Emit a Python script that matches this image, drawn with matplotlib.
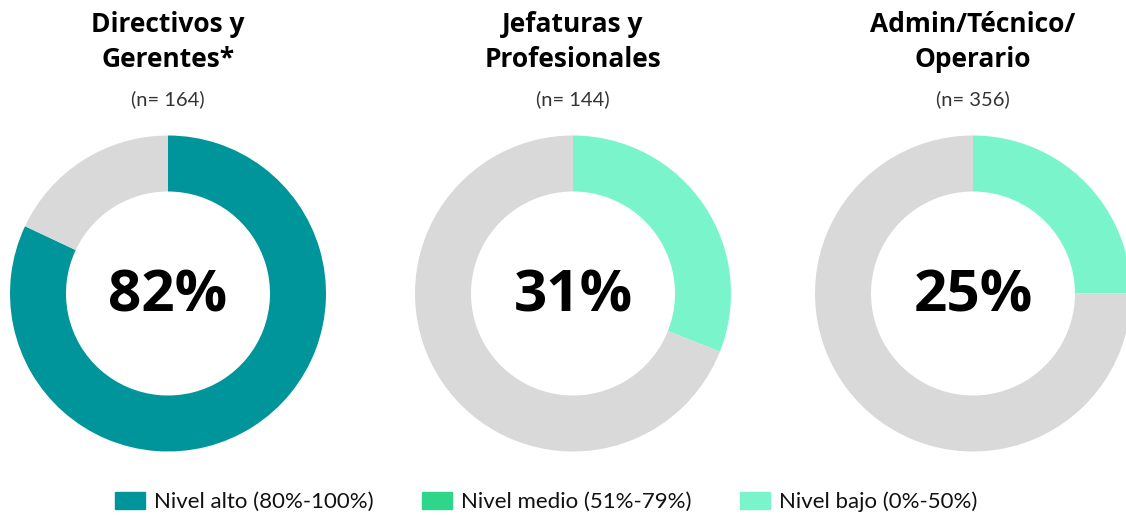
import matplotlib
matplotlib.use("Agg")
import matplotlib.pyplot as plt
import matplotlib.patches as mpatches

# ---------------------------------------------------------------------------
# DATA
# ---------------------------------------------------------------------------
groups = ["Directivos y\nGerentes*", "Jefaturas y\nProfesionales", "Admin/Técnico/\nOperario"]
sample_sizes = [164, 144, 356]
percentages = [82, 31, 25]
levels = ["alto", "bajo", "bajo"]

legend_labels = ["Nivel alto (80%-100%)", "Nivel medio (51%-79%)", "Nivel bajo (0%-50%)"]
LEVEL_COLORS = {"alto": "#00959A", "medio": "#2ED68A", "bajo": "#7AF5CB"}
GRAY = "#D9D9D9"

TITLE_FONT = ["Open Sans", "DejaVu Sans"]
BODY_FONT = ["Lato", "DejaVu Sans"]

W, H = 1126, 515
fig = plt.figure(figsize=(W / 100, H / 100), dpi=100)

centers_x = [168, 573, 973]
center_y = 293.5
radius = 158
ring = 56

for i, (name, n, pct, lvl) in enumerate(zip(groups, sample_sizes, percentages, levels)):
    cx = centers_x[i]
    ax = fig.add_axes([(cx - radius) / W, (H - center_y - radius) / H,
                       2 * radius / W, 2 * radius / H])
    ax.pie([pct, 100 - pct], colors=[LEVEL_COLORS[lvl], GRAY],
           startangle=90, counterclock=False, radius=1,
           wedgeprops=dict(width=ring / radius, linewidth=0))
    ax.set_xlim(-1, 1)
    ax.set_ylim(-1, 1)
    ax.set_aspect("equal")
    ax.axis("off")
    ax.text(0, -0.02, f"{pct}%", ha="center", va="center", fontsize=42,
            fontweight="bold", family=TITLE_FONT, color="black")

    fig.text(cx / W, 1 - 42 / H, name, ha="center", va="center", fontsize=19,
             fontweight="bold", family=TITLE_FONT, linespacing=1.35)
    fig.text(cx / W, 1 - 99 / H, f"(n= {n})", ha="center", va="center",
             fontsize=14.5, fontweight="normal", family=BODY_FONT, color="#333333")

# Legend
handles = [mpatches.Patch(color=LEVEL_COLORS[k], label=l)
           for k, l in zip(["alto", "medio", "bajo"], legend_labels)]
fig.legend(handles=handles, loc="center", bbox_to_anchor=(0.485, 1 - 502 / H),
           ncol=3, frameon=False, prop={"family": BODY_FONT, "size": 16},
           handlelength=1.35, handleheight=0.85, columnspacing=2.2, handletextpad=0.4,
           labelcolor="#111111")

fig.savefig("out.png", dpi=100)
